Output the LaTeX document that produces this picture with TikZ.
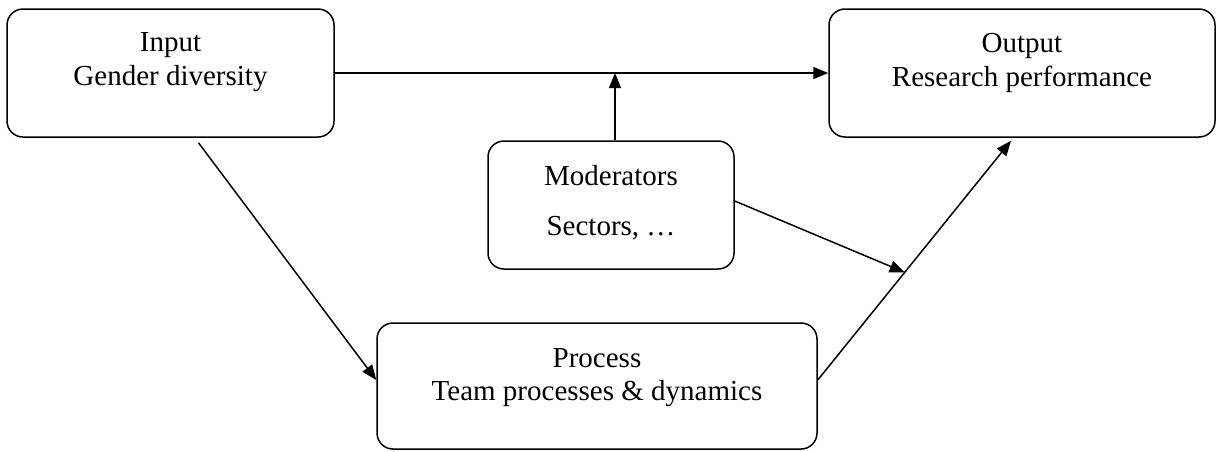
\documentclass[tikz,border=0pt]{standalone}
\usepackage{fontspec}
\setmainfont{Liberation Serif}
\usetikzlibrary{arrows.meta,positioning}

\begin{document}
\begin{tikzpicture}[->,>={Triangle[length=15pt,width=12pt]},x=1pt,y=-1pt,
                    line width=1.5pt, node distance=24pt]
	  \tikzstyle{box}=[draw=black,rounded corners=16pt,minimum height=128pt,inner sep=0pt]
	  \tikzstyle{txt}=[anchor=north,align=center,inner sep=0pt,font=\fontsize{29}{34}\selectfont]
	  \useasboundingbox (0,0) rectangle (1217,451);

	  \node[box,minimum width=327pt] (in)   at (170.5,73) {};
	  \node[box,minimum width=386pt] (out)  at (1022,73)  {};
	  \node[box,minimum width=246pt] (mod)  at (611,205)  {};
	  \node[box,minimum width=440pt,minimum height=126pt] (proc) at (597,386) {};

	  \node[txt] (intxt)   [below=of in.north]   {Input\\Gender diversity};
	  \node[txt] (outtxt)  [below=of out.north]  {Output\\Research performance};
	  \node[txt,font=\fontsize{29}{50}\selectfont] (modtxt) [below=of mod.north] {Moderators\\Sectors, \dots};
	  \node[txt,font=\fontsize{29}{33}\selectfont] (proctxt) [below=25pt of proc.north] {Process\\Team processes \& dynamics};

	  \draw (in.east) -- (out.west);
	  \draw ([xshift=4pt]mod.north) -- ([xshift=4pt]mod.north |- in.east);
	  \draw ([xshift=28pt,yshift=-5pt]in.south) -- ([yshift=6pt]proc.west);
	  \draw ([yshift=6pt]proc.east) -- coordinate[pos=0.45] (hit) ([xshift=-11pt,yshift=-3pt]out.south);
	  \draw ([yshift=4pt]mod.east) -- (hit);
	\end{tikzpicture}
\end{document}
